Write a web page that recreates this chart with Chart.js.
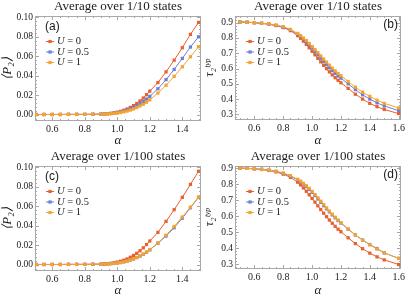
<!DOCTYPE html>
<html>
<head>
<meta charset="utf-8">
<script src="https://cdn.jsdelivr.net/npm/chart.js@4.4.1/dist/chart.umd.min.js"></script>
<style>
  html, body { margin: 0; padding: 0; background: #fff; }
  #wrap { position: relative; width: 407px; height: 300px; overflow: hidden; }
  .panel { position: absolute; }
</style>
</head>
<body>
<div id="wrap">
  <div class="panel" style="left:0;top:0"><canvas id="pa" width="205" height="150"></canvas></div>
  <div class="panel" style="left:204px;top:0"><canvas id="pb" width="203" height="150"></canvas></div>
  <div class="panel" style="left:0;top:150px"><canvas id="pc" width="205" height="150"></canvas></div>
  <div class="panel" style="left:204px;top:150px"><canvas id="pd" width="203" height="150"></canvas></div>
</div>
<script>
// alpha grids
const alphaP = [0.5, 0.55, 0.6, 0.65, 0.7, 0.75, 0.8, 0.85,
  0.9, 0.92, 0.94, 0.96, 0.98, 1.0, 1.02, 1.04, 1.06, 1.08, 1.1, 1.12, 1.14, 1.16, 1.18, 1.2,
  1.25, 1.3, 1.35, 1.4, 1.45, 1.5];
const alphaT = [0.5, 0.55, 0.6, 0.65, 0.7, 0.75, 0.8, 0.85,
  0.9, 0.92, 0.94, 0.96, 0.98, 1.0, 1.02, 1.04, 1.06, 1.08, 1.1, 1.12, 1.14, 1.16, 1.18, 1.2,
  1.25, 1.3, 1.35, 1.4, 1.45, 1.5, 1.6];

const seriesLabels = ['U = 0', 'U = 0.5', 'U = 1'];

// <P2>, average over 1/10 states
const p2Tenth_U0 = [0.0002, 0.0002, 0.0002, 0.0002, 0.0003, 0.0003, 0.0003, 0.0004,
  0.0006, 0.0008, 0.0011, 0.0014, 0.0019, 0.0026, 0.0034, 0.0045, 0.0058, 0.0074, 0.0093, 0.0115, 0.0141, 0.0171, 0.0205, 0.0242,
  0.0330, 0.0440, 0.0560, 0.0688, 0.0825, 0.0948];
const p2Tenth_U05 = [0.0002, 0.0002, 0.0002, 0.0002, 0.0003, 0.0003, 0.0003, 0.0004,
  0.0005, 0.0007, 0.0009, 0.0012, 0.0016, 0.0021, 0.0028, 0.0036, 0.0047, 0.0060, 0.0075, 0.0092, 0.0112, 0.0135, 0.0160, 0.0188,
  0.0266, 0.0360, 0.0465, 0.0578, 0.0695, 0.0800];
const p2Tenth_U1 = [0.0002, 0.0002, 0.0002, 0.0002, 0.0003, 0.0003, 0.0003, 0.0004,
  0.0005, 0.0006, 0.0008, 0.0010, 0.0013, 0.0017, 0.0022, 0.0029, 0.0037, 0.0047, 0.0059, 0.0073, 0.0089, 0.0107, 0.0128, 0.0152,
  0.0222, 0.0302, 0.0394, 0.0492, 0.0595, 0.0698];

// tau2 typ, average over 1/10 states
const tauTenth_U0 = [0.905, 0.903, 0.900, 0.896, 0.890, 0.881, 0.868, 0.848,
  0.815, 0.798, 0.779, 0.758, 0.736, 0.713, 0.690, 0.667, 0.644, 0.621, 0.599, 0.578, 0.558, 0.540, 0.523, 0.507,
  0.470, 0.432, 0.400, 0.372, 0.350, 0.332, 0.305];
const tauTenth_U05 = [0.905, 0.903, 0.900, 0.896, 0.891, 0.883, 0.871, 0.853,
  0.825, 0.810, 0.793, 0.775, 0.755, 0.734, 0.712, 0.690, 0.668, 0.646, 0.625, 0.605, 0.586, 0.568, 0.551, 0.537,
  0.500, 0.462, 0.428, 0.400, 0.375, 0.355, 0.324];
const tauTenth_U1 = [0.905, 0.903, 0.901, 0.897, 0.892, 0.885, 0.874, 0.856,
  0.830, 0.816, 0.800, 0.783, 0.764, 0.744, 0.724, 0.704, 0.683, 0.662, 0.642, 0.622, 0.603, 0.585, 0.568, 0.553,
  0.515, 0.478, 0.445, 0.418, 0.393, 0.372, 0.342];

// <P2>, average over 1/100 states
const p2Hundredth_U0 = [0.0002, 0.0002, 0.0002, 0.0002, 0.0003, 0.0003, 0.0003, 0.0004,
  0.0006, 0.0008, 0.0011, 0.0015, 0.0020, 0.0027, 0.0035, 0.0046, 0.0059, 0.0076, 0.0095, 0.0117, 0.0143, 0.0173, 0.0207, 0.0243,
  0.0332, 0.0445, 0.0565, 0.0692, 0.0825, 0.0960];
const p2Hundredth_U05 = [0.0002, 0.0002, 0.0002, 0.0002, 0.0003, 0.0003, 0.0003, 0.0004,
  0.0005, 0.0006, 0.0008, 0.0010, 0.0013, 0.0017, 0.0022, 0.0029, 0.0037, 0.0047, 0.0059, 0.0073, 0.0089, 0.0107, 0.0128, 0.0152,
  0.0220, 0.0294, 0.0380, 0.0478, 0.0585, 0.0692];
const p2Hundredth_U1 = [0.0002, 0.0002, 0.0002, 0.0002, 0.0003, 0.0003, 0.0003, 0.0004,
  0.0005, 0.0006, 0.0008, 0.0010, 0.0013, 0.0017, 0.0022, 0.0029, 0.0037, 0.0048, 0.0060, 0.0074, 0.0090, 0.0109, 0.0130, 0.0155,
  0.0224, 0.0302, 0.0392, 0.0490, 0.0592, 0.0695];

// tau2 typ, average over 1/100 states
const tauHundredth_U0 = [0.900, 0.898, 0.895, 0.891, 0.885, 0.876, 0.862, 0.842,
  0.812, 0.795, 0.776, 0.755, 0.733, 0.710, 0.687, 0.664, 0.641, 0.618, 0.596, 0.575, 0.555, 0.536, 0.518, 0.502,
  0.464, 0.428, 0.396, 0.368, 0.345, 0.326, 0.297];
const tauHundredth_U05 = [0.900, 0.898, 0.896, 0.892, 0.887, 0.879, 0.867, 0.850,
  0.826, 0.814, 0.800, 0.784, 0.767, 0.748, 0.728, 0.707, 0.686, 0.665, 0.645, 0.626, 0.607, 0.589, 0.572, 0.556,
  0.518, 0.482, 0.450, 0.422, 0.397, 0.370, 0.335];
const tauHundredth_U1 = [0.900, 0.898, 0.896, 0.892, 0.887, 0.880, 0.869, 0.853,
  0.830, 0.818, 0.805, 0.790, 0.773, 0.754, 0.734, 0.714, 0.693, 0.672, 0.651, 0.631, 0.612, 0.593, 0.575, 0.558,
  0.519, 0.482, 0.449, 0.420, 0.394, 0.369, 0.336];

// tick labels
const xTicksP = [0.6, 0.8, 1.0, 1.2, 1.4];
const xTicksT = [0.6, 0.8, 1.0, 1.2, 1.4, 1.6];
const yTicksP = [0.00, 0.02, 0.04, 0.06, 0.08, 0.10];
const yTicksT = [0.3, 0.4, 0.5, 0.6, 0.7, 0.8, 0.9];

const colors = ['#e8602c', '#6b7fd8', '#f5a32e'];
const frameColor = '#a8a8a8';
const serif = '"Liberation Serif", "Times New Roman", serif';

// frame on all four sides, inward major/minor ticks, panel letter and legend
const panelDecor = {
  id: 'panelDecor',
  beforeDatasetsDraw(chart, args, o) {
    const { ctx, chartArea: a } = chart;
    ctx.save();
    ctx.strokeStyle = frameColor;
    ctx.lineWidth = 1;
    ctx.strokeRect(Math.round(a.left) + 0.5, Math.round(a.top) + 0.5,
      Math.round(a.right - a.left) - 1, Math.round(a.bottom - a.top) - 1);
    [['x', o.xMinor], ['y', o.yMinor]].forEach(([id, step]) => {
      const s = chart.scales[id];
      const major = s.ticks.map(t => t.value);
      const start = Math.ceil(s.min / step - 1e-6);
      for (let i = start; i * step <= s.max + 1e-9; i++) {
        const v = i * step;
        const len = major.some(m => Math.abs(m - v) < 1e-6) ? 4 : 2;
        const p = Math.round(s.getPixelForValue(v)) + 0.5;
        ctx.beginPath();
        if (id === 'x') {
          ctx.moveTo(p, a.bottom); ctx.lineTo(p, a.bottom - len);
          ctx.moveTo(p, a.top); ctx.lineTo(p, a.top + len);
        } else {
          ctx.moveTo(a.left, p); ctx.lineTo(a.left + len, p);
          ctx.moveTo(a.right, p); ctx.lineTo(a.right - len, p);
        }
        ctx.stroke();
      }
    });
    ctx.restore();
  },
  afterDraw(chart, args, o) {
    const { ctx, chartArea: a } = chart;
    ctx.save();
    ctx.fillStyle = '#1a1a1a';
    ctx.textBaseline = 'middle';
    ctx.font = '12px "Liberation Sans", Arial, sans-serif';
    if (o.letterSide === 'left') {
      ctx.textAlign = 'left';
      ctx.fillText(o.letter, a.left + 10, a.top + 10.5);
    } else {
      ctx.textAlign = 'right';
      ctx.fillText(o.letter, a.right - 3, a.top + 8.5);
    }
    chart.data.datasets.forEach((ds, i) => {
      const x = a.left + 15;
      const y = a.top + 25.5 + i * 10.5;
      ctx.strokeStyle = ds.borderColor;
      ctx.lineWidth = 1;
      ctx.beginPath();
      ctx.moveTo(x - 4, y); ctx.lineTo(x + 4, y);
      ctx.stroke();
      ctx.fillStyle = ds.backgroundColor;
      ctx.fillRect(x - 1.6, y - 1.6, 3.2, 3.2);
      const parts = ds.label.split(' ');
      ctx.fillStyle = '#1a1a1a';
      ctx.textAlign = 'left';
      ctx.font = 'italic 10.5px ' + serif;
      ctx.fillText(parts[0], x + 7, y);
      const w = ctx.measureText(parts[0]).width;
      ctx.font = '10.5px ' + serif;
      ctx.fillText(' ' + parts.slice(1).join(' '), x + 7 + w, y);
    });
    ctx.restore();
  }
};

function makePanel(id, cfg) {
  const datasets = cfg.series.map((ys, i) => ({
    label: seriesLabels[i],
    data: cfg.xs.map((x, j) => ({ x: x, y: ys[j] })),
    borderColor: colors[i],
    backgroundColor: colors[i],
    borderWidth: 1,
    pointStyle: 'rect',
    pointRadius: 2.3,
    pointBorderWidth: 0,
    tension: 0,
    order: 2 - i
  }));

  new Chart(document.getElementById(id), {
    type: 'line',
    data: { datasets: datasets },
    plugins: [panelDecor],
    options: {
      responsive: false,
      animation: false,
      layout: { padding: { left: 0, right: cfg.padRight, top: 0, bottom: 0 } },
      scales: {
        x: {
          type: 'linear',
          min: cfg.xMin,
          max: cfg.xMax,
          afterBuildTicks: s => { s.ticks = cfg.xTicks.map(v => ({ value: v })); },
          afterFit: s => { s.height = cfg.xAxisH; },
          grid: { display: false, drawTicks: false },
          border: { display: false },
          ticks: {
            padding: 2,
            color: '#1a1a1a',
            font: { family: serif, size: 10 },
            callback: v => Number(v).toFixed(1)
          },
          title: {
            display: true,
            text: 'α',
            color: '#1a1a1a',
            font: { family: serif, size: 13, style: 'italic', lineHeight: 1.2 },
            padding: { top: 0, bottom: 2 }
          }
        },
        y: {
          type: 'linear',
          min: cfg.yMin,
          max: cfg.yMax,
          afterBuildTicks: s => { s.ticks = cfg.yTicks.map(v => ({ value: v })); },
          afterFit: s => { s.width = cfg.yAxisW; },
          grid: { display: false, drawTicks: false },
          border: { display: false },
          ticks: {
            padding: 2,
            color: '#1a1a1a',
            font: { family: serif, size: 9.5 },
            callback: v => Number(v).toFixed(cfg.yDigits)
          },
          title: {
            display: true,
            text: cfg.yTitle,
            color: '#1a1a1a',
            font: { family: serif, size: cfg.yTitleSize, style: 'italic', lineHeight: cfg.yTitleLH },
            padding: 0
          }
        }
      },
      plugins: {
        legend: { display: false },
        tooltip: { enabled: false },
        title: {
          display: true,
          fullSize: false,
          text: cfg.title,
          color: '#1a1a1a',
          font: { family: serif, size: 13, weight: 'normal', lineHeight: 1.0 },
          padding: { top: 0, bottom: 3 }
        },
        panelDecor: { letter: cfg.letter, letterSide: cfg.letterSide, xMinor: cfg.xMinor, yMinor: cfg.yMinor }
      }
    }
  });
}

makePanel('pa', {
  xs: alphaP, series: [p2Tenth_U0, p2Tenth_U05, p2Tenth_U1],
  title: 'Average over 1/10 states', yTitle: '⟨P₂⟩', yTitleSize: 13, yTitleLH: 1.2,
  letter: '(a)', letterSide: 'left',
  xMin: 0.494, xMax: 1.515, yMin: -0.0065, yMax: 0.1014,
  xTicks: xTicksP, yTicks: yTicksP, xMinor: 0.05, yMinor: 0.004, yDigits: 2,
  yAxisW: 35, xAxisH: 29, padRight: 2
});
makePanel('pb', {
  xs: alphaT, series: [tauTenth_U0, tauTenth_U05, tauTenth_U1],
  title: 'Average over 1/10 states', yTitle: 'τ₂ᵗʸᵖ', yTitleSize: 12.5, yTitleLH: 0.9,
  letter: '(b)', letterSide: 'right',
  xMin: 0.466, xMax: 1.616, yMin: 0.263, yMax: 0.944,
  xTicks: xTicksT, yTicks: yTicksT, xMinor: 0.05, yMinor: 0.02, yDigits: 1,
  yAxisW: 31, xAxisH: 30, padRight: 3
});
makePanel('pc', {
  xs: alphaP, series: [p2Hundredth_U0, p2Hundredth_U05, p2Hundredth_U1],
  title: 'Average over 1/100 states', yTitle: '⟨P₂⟩', yTitleSize: 13, yTitleLH: 1.2,
  letter: '(c)', letterSide: 'left',
  xMin: 0.494, xMax: 1.515, yMin: -0.0065, yMax: 0.1014,
  xTicks: xTicksP, yTicks: yTicksP, xMinor: 0.05, yMinor: 0.004, yDigits: 2,
  yAxisW: 35, xAxisH: 29, padRight: 2
});
makePanel('pd', {
  xs: alphaT, series: [tauHundredth_U0, tauHundredth_U05, tauHundredth_U1],
  title: 'Average over 1/100 states', yTitle: 'τ₂ᵗʸᵖ', yTitleSize: 12.5, yTitleLH: 0.9,
  letter: '(d)', letterSide: 'right',
  xMin: 0.466, xMax: 1.616, yMin: 0.269, yMax: 0.913,
  xTicks: xTicksT, yTicks: yTicksT, xMinor: 0.05, yMinor: 0.02, yDigits: 1,
  yAxisW: 31, xAxisH: 31, padRight: 3
});
</script>
</body>
</html>
